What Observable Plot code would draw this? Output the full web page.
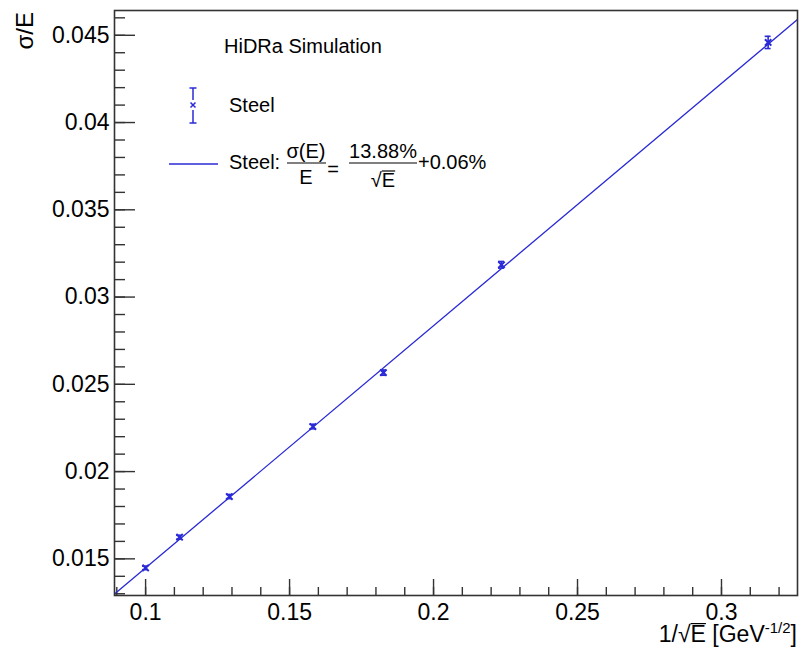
<!DOCTYPE html>
<html><head><meta charset="utf-8">
<script src="https://cdn.jsdelivr.net/npm/d3@7"></script>
<script src="https://cdn.jsdelivr.net/npm/@observablehq/plot@0.6"></script>
<style>
body{margin:0;background:#fff}
svg{font-family:"Liberation Sans",Arial,Helvetica,sans-serif}
</style>
</head><body><div id="chart"></div>
<script>
// Data (1/sqrt(E) vs sigma/E for Steel)
const invSqrtE   = [0.1, 0.1118, 0.1291, 0.1581, 0.1826, 0.2236, 0.3162];
const sigmaOverE = [0.01448, 0.01624, 0.01857, 0.02258, 0.02567, 0.03185, 0.04459];
const sigmaErr   = [0.00010, 0.00011, 0.00012, 0.00013, 0.00015, 0.00019, 0.00035];
// Fit: sigma/E = a/sqrt(E) + b
const fitSlope = 0.1388, fitConst = 0.0006;
const xDomain = [0.0892, 0.3264];
const yDomain = [0.0129, 0.04642];
const xMajorTicks = [0.1, 0.15, 0.2, 0.25, 0.3];
const yMajorTicks = [0.015, 0.02, 0.025, 0.03, 0.035, 0.04, 0.045];
const xMinorTicks = d3.range(9, 33).map(i => i / 100);
const yMinorTicks = d3.range(13, 47).map(i => i / 1000);
const seriesName = "Steel";
const titleText = "HiDRa Simulation";

const blue = "#2a2ad6";
const axisCol = "#333";
const W = 799, H = 651, mL = 114, mT = 10, mR = 2, mB = 56;
const fw = W - mL - mR, fh = H - mT - mB;
const fmt = d => String(+d.toFixed(4));

const data = invSqrtE.map((x, i) => ({x, y: sigmaOverE[i], e: sigmaErr[i]}));

const plot = Plot.plot({
  width: W, height: H,
  marginLeft: mL, marginTop: mT, marginRight: mR, marginBottom: mB,
  style: {fontFamily: '"Liberation Sans",Arial,sans-serif', fontSize: "23px", color: "#000", background: "#fff", overflow: "visible"},
  x: {domain: xDomain},
  y: {domain: yDomain},
  marks: [
    Plot.ruleY(yMinorTicks, {y: d => d, stroke: axisCol, strokeWidth: 1.4, insetRight: fw - 11}),
    Plot.ruleY(yMajorTicks, {y: d => d, stroke: axisCol, strokeWidth: 1.4, insetRight: fw - 21}),
    Plot.ruleX(xMinorTicks, {x: d => d, stroke: axisCol, strokeWidth: 1.4, insetTop: fh - 8}),
    Plot.ruleX(xMajorTicks, {x: d => d, stroke: axisCol, strokeWidth: 1.4, insetTop: fh - 16}),
    Plot.axisY({ticks: yMajorTicks, tickSize: 0, tickPadding: 5, tickFormat: fmt, label: null, fontSize: 23}),
    Plot.axisX({ticks: xMajorTicks, tickSize: 0, tickPadding: 8, tickFormat: fmt, label: null, fontSize: 23}),
    Plot.line(xDomain, {x: d => d, y: d => fitSlope * d + fitConst, stroke: blue, strokeWidth: 1.3, clip: true}),
    Plot.ruleX(data, {x: "x", y1: d => d.y - d.e, y2: d => d.y + d.e, stroke: blue, strokeWidth: 1.6}),
    Plot.ruleY(data, {y: d => d.y + d.e, x1: "x", x2: "x", insetLeft: -3, insetRight: -3, stroke: blue, strokeWidth: 1.6}),
    Plot.ruleY(data, {y: d => d.y - d.e, x1: "x", x2: "x", insetLeft: -3, insetRight: -3, stroke: blue, strokeWidth: 1.6}),
    Plot.dot(data, {x: "x", y: "y", symbol: "times", r: 3, stroke: blue, strokeWidth: 2}),
    Plot.frame({stroke: axisCol, strokeWidth: 1.6})
  ]
});
document.getElementById("chart").appendChild(plot);

const svg = d3.select(plot);
const g = svg.append("g").attr("fill", "#000").attr("text-anchor", "start");

// draw a sqrt bar over a character of a text element
function sqrtBar(textSel, charIndex, fontSize, extraLeft) {
  const node = textSel.node();
  const r = node.getExtentOfChar(charIndex);
  const base = +textSel.attr("y");
  const yb = base - 0.80 * fontSize;
  textSel.node().parentNode.appendChild(document.createElementNS("http://www.w3.org/2000/svg", "line"));
  d3.select(node.parentNode.lastChild)
    .attr("x1", r.x - extraLeft).attr("x2", r.x + r.width)
    .attr("y1", yb).attr("y2", yb)
    .attr("stroke", "#000").attr("stroke-width", 1.2);
}

// Y axis title
g.append("text").attr("transform", "translate(33,12) rotate(-90)")
  .attr("text-anchor", "end").attr("font-size", 24).text("σ/E");

// X axis title
const xt = g.append("text").attr("x", 797).attr("y", 642).attr("text-anchor", "end").attr("font-size", 23);
xt.append("tspan").text("1/√");
xt.append("tspan").text("E");
xt.append("tspan").text(" [GeV");
xt.append("tspan").attr("dy", -9).attr("font-size", 15).text("-1/2");
xt.append("tspan").attr("dy", 9).text("]");
sqrtBar(xt, 3, 23, 0);

// Legend
const lg = svg.append("g").attr("font-size", 20).attr("text-anchor", "start").attr("fill", "#000");
lg.append("text").attr("x", 224).attr("y", 53).text(titleText);
// error-bar marker icon
const ic = lg.append("g").attr("stroke", blue).attr("stroke-width", 1.5).attr("fill", "none");
ic.append("line").attr("x1", 193).attr("x2", 193).attr("y1", 88).attr("y2", 100);
ic.append("line").attr("x1", 193).attr("x2", 193).attr("y1", 110).attr("y2", 123);
ic.append("line").attr("x1", 189.5).attr("x2", 196.5).attr("y1", 88).attr("y2", 88);
ic.append("line").attr("x1", 189.5).attr("x2", 196.5).attr("y1", 123).attr("y2", 123);
ic.append("path").attr("d", "M190.5,102.5L195.5,107.5M195.5,102.5L190.5,107.5");
lg.append("text").attr("x", 229).attr("y", 112).text(seriesName);
// fit line entry
lg.append("line").attr("x1", 169).attr("x2", 218).attr("y1", 164).attr("y2", 164)
  .attr("stroke", blue).attr("stroke-width", 1.3);
lg.append("text").attr("x", 229).attr("y", 169).text(seriesName + ":");
lg.append("text").attr("x", 306).attr("y", 158).attr("text-anchor", "middle").text("σ(E)");
lg.append("line").attr("x1", 287).attr("x2", 326).attr("y1", 163).attr("y2", 163).attr("stroke", "#000").attr("stroke-width", 1);
lg.append("text").attr("x", 306).attr("y", 184).attr("text-anchor", "middle").text("E");
lg.append("text").attr("x", 333).attr("y", 176).attr("text-anchor", "middle").text("=");
lg.append("text").attr("x", 383).attr("y", 158).attr("text-anchor", "middle").text((fitSlope * 100).toFixed(2) + "%");
lg.append("line").attr("x1", 349).attr("x2", 417).attr("y1", 163).attr("y2", 163).attr("stroke", "#000").attr("stroke-width", 1);
const den = lg.append("text").attr("x", 383).attr("y", 187).attr("text-anchor", "middle");
den.append("tspan").text("√");
den.append("tspan").text("E");
sqrtBar(den, 1, 20, 0);
lg.append("text").attr("x", 418).attr("y", 169).text("+" + (fitConst * 100).toFixed(2) + "%");
</script>
</body></html>
